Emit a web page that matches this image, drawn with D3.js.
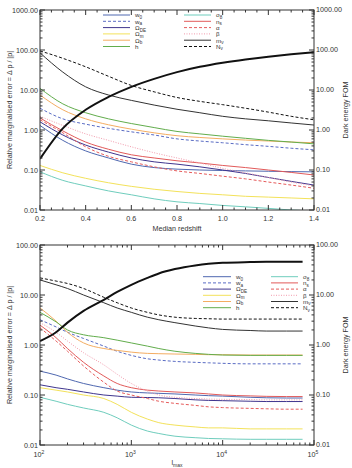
<!DOCTYPE html>
<html>
<head>
<meta charset="utf-8">
<script src="https://cdn.jsdelivr.net/npm/d3@7"></script>
<style>
  body { margin: 0; background: #fff; }
  svg text { font-family: "Liberation Sans", Arial, Helvetica, sans-serif; fill: #333; }
</style>
</head>
<body>
<script>
// ---- top panel: errors vs median redshift ----
const redshift = [0.2, 0.3, 0.4, 0.5, 0.6, 0.7, 0.8, 0.9, 1.0, 1.1, 1.2, 1.3, 1.4];
const zW0 = [1.3, 0.55, 0.30, 0.20, 0.14, 0.115, 0.105, 0.10, 0.097, 0.095, 0.093, 0.091, 0.09];
const zWa = [3.5, 1.9, 1.4, 1.1, 0.9, 0.75, 0.6, 0.53, 0.48, 0.43, 0.39, 0.35, 0.32];
const zODE = [1.6, 0.75, 0.42, 0.28, 0.20, 0.16, 0.14, 0.12, 0.10, 0.082, 0.065, 0.052, 0.042];
const zOm = [0.13, 0.085, 0.062, 0.048, 0.039, 0.033, 0.029, 0.026, 0.024, 0.022, 0.021, 0.02, 0.019];
const zOb = [7.5, 3.2, 1.9, 1.35, 1.05, 0.85, 0.72, 0.65, 0.6, 0.56, 0.53, 0.5, 0.48];
const zH = [11, 4.5, 2.7, 1.9, 1.45, 1.15, 0.92, 0.8, 0.7, 0.62, 0.55, 0.5, 0.45];
const zS8 = [0.09, 0.055, 0.04, 0.03, 0.024, 0.019, 0.016, 0.0145, 0.013, 0.012, 0.011, 0.01, 0.0095];
const zNs = [2.0, 0.95, 0.50, 0.33, 0.24, 0.20, 0.17, 0.15, 0.13, 0.115, 0.10, 0.087, 0.075];
const zAlpha = [1.8, 0.85, 0.38, 0.22, 0.16, 0.12, 0.095, 0.082, 0.07, 0.06, 0.05, 0.042, 0.035];
const zBeta = [2.2, 1.3, 0.80, 0.55, 0.38, 0.27, 0.20, 0.15, 0.11, 0.085, 0.065, 0.05, 0.04];
const zMnu = [85, 28, 12, 7.5, 5.5, 4.2, 3.3, 2.7, 2.2, 1.9, 1.7, 1.5, 1.33];
const zNnu = [95, 62, 38, 22, 13, 9, 6.5, 5.2, 4.3, 3.5, 2.8, 2.2, 1.8];
const zFom = [0.19, 1.1, 3.2, 6.7, 12, 19, 28, 38, 48, 58, 68, 78, 88];

// ---- bottom panel: errors vs l_max ----
const lmax = [100, 150, 200, 300, 500, 700, 1000, 1500, 2000, 3000, 5000, 7000, 10000, 20000, 30000, 50000, 75000];
const lW0 = [0.30, 0.25, 0.21, 0.17, 0.14, 0.125, 0.115, 0.11, 0.108, 0.105, 0.10, 0.097, 0.095, 0.09, 0.088, 0.087, 0.087];
const lWa = [3.2, 2.3, 1.8, 1.35, 0.95, 0.75, 0.62, 0.53, 0.50, 0.47, 0.45, 0.44, 0.43, 0.42, 0.42, 0.42, 0.42];
const lODE = [0.16, 0.14, 0.13, 0.115, 0.10, 0.095, 0.09, 0.089, 0.088, 0.085, 0.08, 0.078, 0.077, 0.075, 0.074, 0.074, 0.074];
const lOm = [0.14, 0.125, 0.115, 0.10, 0.085, 0.065, 0.045, 0.033, 0.028, 0.025, 0.023, 0.022, 0.022, 0.021, 0.021, 0.021, 0.021];
const lOb = [5.5, 3.0, 1.8, 1.1, 0.85, 0.78, 0.72, 0.68, 0.67, 0.66, 0.65, 0.64, 0.64, 0.63, 0.63, 0.63, 0.63];
const lH = [4.5, 2.9, 2.0, 1.6, 1.4, 1.25, 1.1, 0.95, 0.85, 0.75, 0.68, 0.65, 0.63, 0.62, 0.62, 0.62, 0.62];
const lS8 = [0.09, 0.075, 0.065, 0.055, 0.045, 0.035, 0.025, 0.019, 0.017, 0.015, 0.014, 0.0135, 0.0133, 0.013, 0.013, 0.013, 0.013];
const lNs = [2.5, 1.4, 0.85, 0.45, 0.24, 0.17, 0.14, 0.125, 0.12, 0.115, 0.11, 0.105, 0.1, 0.096, 0.094, 0.093, 0.093];
const lAlpha = [2.2, 1.2, 0.75, 0.38, 0.18, 0.12, 0.10, 0.085, 0.075, 0.068, 0.062, 0.058, 0.056, 0.054, 0.053, 0.052, 0.052];
const lBeta = [2.8, 1.8, 1.2, 0.7, 0.4, 0.26, 0.17, 0.12, 0.10, 0.09, 0.085, 0.083, 0.082, 0.081, 0.08, 0.08, 0.08];
const lMnu = [20, 16, 13.5, 10, 7, 5.5, 4.5, 3.6, 3.2, 2.8, 2.4, 2.2, 2.05, 1.95, 1.9, 1.9, 1.9];
const lNnu = [22, 19, 17, 13.5, 9, 7, 5.5, 4.5, 4.0, 3.6, 3.4, 3.35, 3.3, 3.3, 3.3, 3.3, 3.3];
const lFom = [1.2, 1.8, 2.8, 4.8, 8.0, 11.5, 16, 22, 27, 33, 39, 42, 44, 45.5, 46, 46, 46];

// legend labels: [base, subscript]
const leftLabels = [["w", "0"], ["w", "a"], ["Ω", "DE"], ["Ω", "m"], ["Ω", "b"], ["h", ""]];
const rightLabels = [["σ", "8"], ["n", "s"], ["α", ""], ["β", ""], ["m", "ν"], ["N", "ν"]];

// line styles per parameter (same order as legends)
const styles = {
  w0:    { color: "#4f68b0", dash: null, width: 1 },
  wa:    { color: "#5a6cc4", dash: "3,2", width: 1 },
  ODE:   { color: "#3f358e", dash: null, width: 1 },
  Om:    { color: "#f3e25a", dash: null, width: 1 },
  Ob:    { color: "#f4ad62", dash: null, width: 1 },
  h:     { color: "#62ad4c", dash: null, width: 1 },
  s8:    { color: "#6fcdbd", dash: null, width: 1 },
  ns:    { color: "#e25a5a", dash: null, width: 1 },
  alpha: { color: "#e65c5c", dash: "3,2", width: 1 },
  beta:  { color: "#f29aac", dash: "1,1.5", width: 1 },
  mnu:   { color: "#333", dash: null, width: 1 },
  nnu:   { color: "#111", dash: "3,2", width: 1 }
};
const leftKeys = ["w0", "wa", "ODE", "Om", "Ob", "h"];
const rightKeys = ["s8", "ns", "alpha", "beta", "mnu", "nnu"];

const W = 352, H = 468;
const svg = d3.select("body").append("svg").attr("width", W).attr("height", H);
const fs = 7.2;
const fmt = d3.format(".2f");

function drawPanel(p) {
  const g = svg.append("g");
  const x = p.xLog ? d3.scaleLog() : d3.scaleLinear();
  x.domain(p.xDomain).range([p.left, p.right]);
  const y = d3.scaleLog().domain(p.yDomain).range([p.bottom, p.top]);

  // curves
  const line = d3.line().x(d => x(d[0])).y(d => y(d[1])).curve(d3.curveMonotoneX);
  const clipId = "clip" + p.id;
  svg.append("clipPath").attr("id", clipId).append("rect")
    .attr("x", p.left).attr("y", p.top).attr("width", p.right - p.left).attr("height", p.bottom - p.top);
  const cg = g.append("g").attr("clip-path", `url(#${clipId})`);
  Object.keys(p.series).forEach(k => {
    const s = styles[k];
    cg.append("path")
      .datum(p.xs.map((v, i) => [v, p.series[k][i]]))
      .attr("d", line).attr("fill", "none")
      .attr("stroke", s.color).attr("stroke-width", s.width)
      .attr("stroke-dasharray", s.dash);
  });
  cg.append("path")
    .datum(p.xs.map((v, i) => [v, p.fom[i]]))
    .attr("d", line).attr("fill", "none")
    .attr("stroke", "#111").attr("stroke-width", 2);

  // frame
  g.append("rect").attr("x", p.left).attr("y", p.top)
    .attr("width", p.right - p.left).attr("height", p.bottom - p.top)
    .attr("fill", "none").attr("stroke", "#333").attr("stroke-width", 1);

  // y ticks (log), both sides, inward
  const yTicks = y.ticks();
  yTicks.forEach(t => {
    const major = Math.abs(Math.log10(t) - Math.round(Math.log10(t))) < 1e-6;
    const len = major ? 5 : 2.5;
    const yy = y(t);
    g.append("line").attr("x1", p.left).attr("x2", p.left + len).attr("y1", yy).attr("y2", yy).attr("stroke", "#333");
    g.append("line").attr("x1", p.right).attr("x2", p.right - len).attr("y1", yy).attr("y2", yy).attr("stroke", "#333");
    if (major) {
      g.append("text").attr("x", p.left - 2).attr("y", yy + 2.6).attr("text-anchor", "end")
        .attr("font-size", fs).text(fmt(t));
      g.append("text").attr("x", p.right + 2).attr("y", yy + 2.2).attr("text-anchor", "start")
        .attr("font-size", fs).text(fmt(t));
    }
  });

  // x ticks
  p.xTicks.forEach(t => {
    const xx = x(t.v);
    const len = t.major ? 5 : 2.5;
    g.append("line").attr("x1", xx).attr("x2", xx).attr("y1", p.bottom).attr("y2", p.bottom - len).attr("stroke", "#333");
    g.append("line").attr("x1", xx).attr("x2", xx).attr("y1", p.top).attr("y2", p.top + len).attr("stroke", "#333");
  });
  p.xLabels(g, x);

  // axis titles
  g.append("text").attr("transform", `translate(${p.left - 28},${(p.top + p.bottom) / 2}) rotate(-90)`)
    .attr("text-anchor", "middle").attr("font-size", fs).text("Relative marginalised error = Δ p / |p|");
  g.append("text").attr("transform", `translate(${p.right + 34},${(p.top + p.bottom) / 2}) rotate(-90)`)
    .attr("text-anchor", "middle").attr("font-size", fs).text("Dark energy FOM");

  // legend
  const rowY = i => p.legend.y + i * p.legend.dy;
  const drawCol = (keys, labels, x0, x1, tx) => {
    keys.forEach((k, i) => {
      const s = styles[k];
      g.append("line").attr("x1", x0).attr("x2", x1).attr("y1", rowY(i)).attr("y2", rowY(i))
        .attr("stroke", s.color).attr("stroke-width", s.width).attr("stroke-dasharray", s.dash);
      const t = g.append("text").attr("x", tx).attr("y", rowY(i) + 2.3).attr("font-size", 6.2);
      t.append("tspan").text(labels[i][0]);
      if (labels[i][1]) t.append("tspan").attr("font-size", 4.6).attr("dy", 1.6).text(labels[i][1]);
    });
  };
  drawCol(leftKeys, leftLabels, p.legend.lx0, p.legend.lx1, p.legend.lx1 + 5);
  drawCol(rightKeys, rightLabels, p.legend.rx0, p.legend.rx1, p.legend.rx1 + 5);
}

// top panel
const zTicks = d3.range(0, 25).map(i => {
  const v = 0.2 + i * 0.05;
  return { v: v, major: i % 4 === 0 };
});
drawPanel({
  id: "top", left: 40, right: 314, top: 10, bottom: 210,
  xLog: false, xDomain: [0.2, 1.4], yDomain: [0.01, 1000],
  xs: redshift,
  series: { w0: zW0, wa: zWa, ODE: zODE, Om: zOm, Ob: zOb, h: zH, s8: zS8, ns: zNs, alpha: zAlpha, beta: zBeta, mnu: zMnu, nnu: zNnu },
  fom: zFom,
  xTicks: zTicks,
  xLabels: (g, x) => {
    zTicks.filter(t => t.major).forEach(t => {
      g.append("text").attr("x", x(t.v)).attr("y", 221).attr("text-anchor", "middle")
        .attr("font-size", fs).text(d3.format(".1f")(t.v));
    });
    g.append("text").attr("x", 177).attr("y", 231).attr("text-anchor", "middle")
      .attr("font-size", fs).text("Median redshift");
  },
  legend: { y: 15, dy: 6.3, lx0: 103, lx1: 130, rx0: 184, rx1: 211 }
});

// bottom panel
const lTicks = [];
[100, 1000, 10000].forEach(dec => {
  for (let m = 1; m < 10; m++) lTicks.push({ v: dec * m, major: m === 1 });
});
lTicks.push({ v: 100000, major: true });
drawPanel({
  id: "bot", left: 40, right: 314, top: 245, bottom: 445,
  xLog: true, xDomain: [100, 100000], yDomain: [0.01, 100],
  xs: lmax,
  series: { w0: lW0, wa: lWa, ODE: lODE, Om: lOm, Ob: lOb, h: lH, s8: lS8, ns: lNs, alpha: lAlpha, beta: lBeta, mnu: lMnu, nnu: lNnu },
  fom: lFom,
  xTicks: lTicks,
  xLabels: (g, x) => {
    [[100, "2"], [1000, "3"], [10000, "4"], [100000, "5"]].forEach(d => {
      const t = g.append("text").attr("x", x(d[0]) - 1).attr("y", 457).attr("text-anchor", "middle").attr("font-size", fs);
      t.append("tspan").text("10");
      t.append("tspan").attr("font-size", 5).attr("dy", -2.6).text(d[1]);
    });
    const t = g.append("text").attr("x", 177).attr("y", 465).attr("text-anchor", "middle").attr("font-size", fs);
    t.append("tspan").text("l");
    t.append("tspan").attr("font-size", 5).attr("dy", 1.8).text("max");
  },
  legend: { y: 276.7, dy: 6.2, lx0: 203, lx1: 231, rx0: 271, rx1: 298 }
});
</script>
</body>
</html>
